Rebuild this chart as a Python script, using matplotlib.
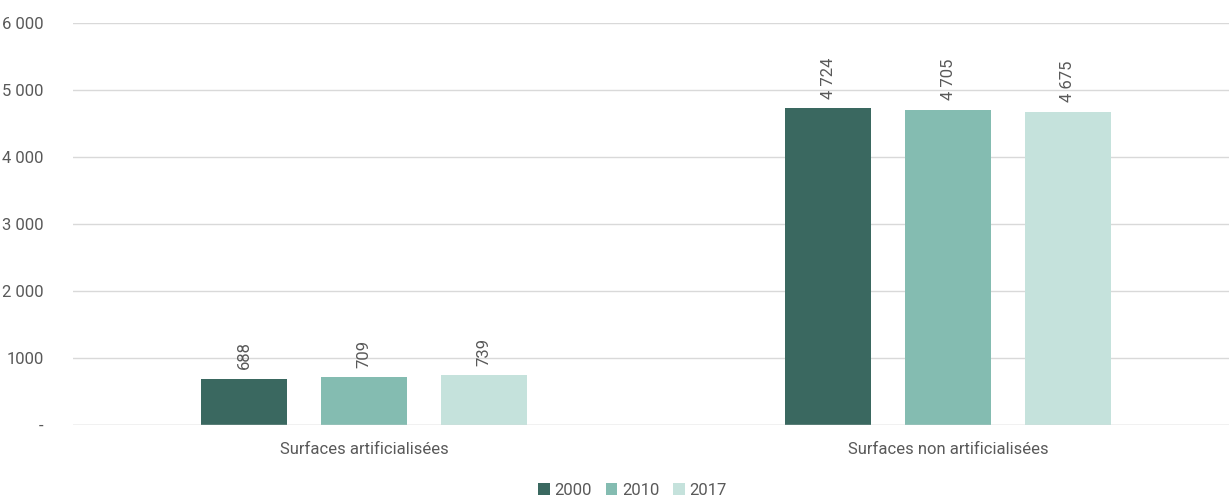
import matplotlib

matplotlib.use("Agg")

import matplotlib.pyplot as plt
import numpy as np

categories = ["Surfaces artificialisées", "Surfaces non artificialisées"]
years = ["2000", "2010", "2017"]
values_2000 = [688, 4724]
values_2010 = [709, 4705]
values_2017 = [739, 4675]
y_ticks = [0, 1000, 2000, 3000, 4000, 5000, 6000]
y_tick_labels = ["-", "1000", "2 000", "3 000", "4 000", "5 000", "6 000"]

colors = ["#3a6860", "#84bcb1", "#c5e2dc"]
text_color = "#595959"

plt.rcParams["font.family"] = ["Roboto", "DejaVu Sans"]

fig = plt.figure(figsize=(12.29, 4.97), dpi=100)
ax = fig.add_axes([0.0594, 0.1449, 0.9406, 0.8088])

x = np.arange(len(categories))
width = 0.147
offset = 0.205
series = [values_2000, values_2010, values_2017]
for i, (vals, label, color) in enumerate(zip(series, years, colors)):
    pos = x + (i - 1) * offset
    bars = ax.bar(pos, vals, width=width, color=color, label=label, zorder=3)
    for b, v in zip(bars, vals):
        txt = f"{v:,}".replace(",", " ")
        ax.annotate(txt, (b.get_x() + b.get_width() / 2, v), xytext=(0, 7),
                    textcoords="offset points", rotation=90, ha="center", va="bottom",
                    fontsize=12, color=text_color)

ax.set_xlim(-0.498, 1.481)
ax.set_ylim(0, 6000)
ax.set_yticks(y_ticks)
ax.set_yticklabels(y_tick_labels)
ax.set_xticks(x)
ax.set_xticklabels(categories)
ax.tick_params(axis="both", length=0, labelsize=12, colors=text_color)
ax.tick_params(axis="y", pad=21)
ax.tick_params(axis="x", pad=12)
ax.grid(True, axis="y", color="#d9d9d9", linewidth=1, zorder=0)
ax.axhline(0, color="#d9d9d9", linewidth=1, zorder=4)
for s in ax.spines.values():
    s.set_visible(False)

ax.legend(loc="center", bbox_to_anchor=(0.484, -0.163),
          ncol=3, frameon=False, fontsize=12, handlelength=0.7, handleheight=0.7,
          handletextpad=0.3, columnspacing=0.8, labelcolor=text_color)

plt.savefig("out.png", dpi=100)
